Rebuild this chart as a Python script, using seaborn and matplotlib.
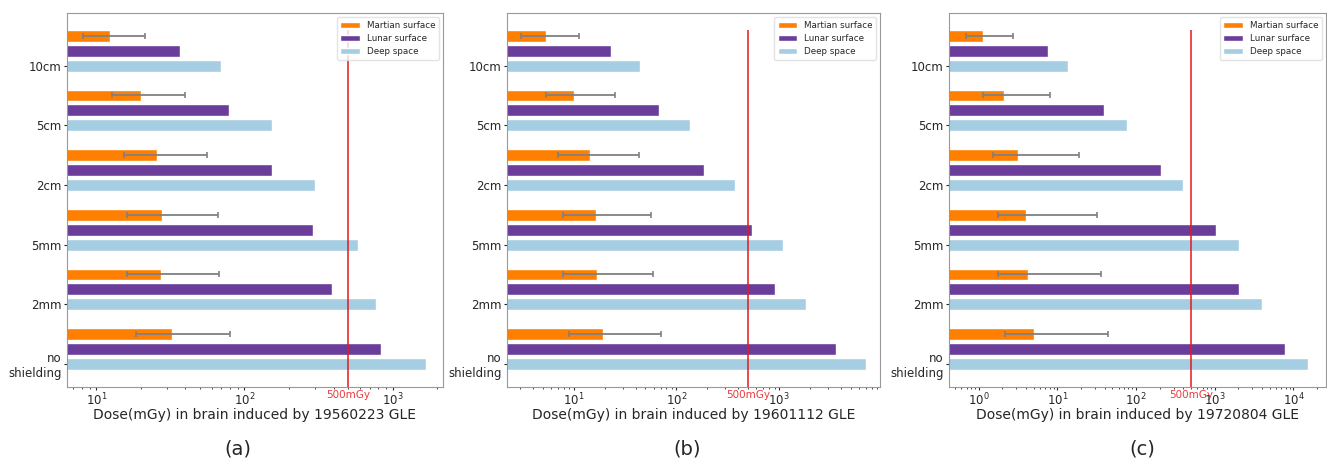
import numpy as np
import seaborn as sns
import matplotlib
matplotlib.use("Agg")
import matplotlib.pyplot as plt
import matplotlib.transforms as mtrans

# categories, bottom to top
shielding = ['no\nshielding', '2mm', '5mm', '2cm', '5cm', '10cm']
series = ['Martian surface', 'Lunar surface', 'Deep space']

# panel (a) 19560223
a_mars = [32.2, 27.5, 27.8, 25.6, 20.1, 12.4]
a_mars_lo = [18.6, 16.0, 16.2, 15.4, 12.8, 8.1]
a_mars_hi = [80.5, 67.8, 66.8, 56.3, 39.4, 21.4]
a_moon = [841, 390, 292, 153, 79, 36.8]
a_deep = [1690, 778, 583, 300, 153, 69.7]

# panel (b) 19601112
b_mars = [19.5, 16.7, 16.4, 14.3, 10.1, 5.4]
b_mars_lo = [9.1, 7.9, 7.8, 7.0, 5.4, 3.1]
b_mars_hi = [71, 59, 56.4, 43.2, 25.3, 11.2]
b_moon = [3580, 912, 541, 187, 68.4, 23.2]
b_deep = [7000, 1838, 1096, 372, 136, 44.5]

# panel (c) 19720804
c_mars = [5.0, 4.2, 4.0, 3.2, 2.12, 1.12]
c_mars_lo = [2.14, 1.78, 1.75, 1.54, 1.12, 0.68]
c_mars_hi = [43.8, 35.7, 32, 18.9, 8.1, 2.76]
c_moon = [7840, 2015, 1028, 205, 38.6, 7.6]
c_deep = [15500, 4035, 2015, 398, 75.7, 13.8]

events = ['19560223', '19601112', '19720804']
panel_tags = ['(a)', '(b)', '(c)']
limit_dose = 500

sns.set_style("ticks")
plt.rcParams['font.family'] = ['DejaVu Sans']
pal = sns.color_palette("Paired")
colors = [pal[7], pal[9], pal[0]]

panels = [
    (a_mars, a_mars_lo, a_mars_hi, a_moon, a_deep, (6.34, 2190)),
    (b_mars, b_mars_lo, b_mars_hi, b_moon, b_deep, (2.25, 9600)),
    (c_mars, c_mars_lo, c_mars_hi, c_moon, c_deep, (0.42, 26000)),
]
rects = [
    [0.0505, 0.157, 0.2833, 0.815],
    [0.3821, 0.157, 0.2812, 0.815],
    [0.7152, 0.157, 0.2841, 0.815],
]
tag_x = [0.179, 0.518, 0.861]

fig = plt.figure(figsize=(13.27, 4.59), dpi=100)
pos = np.arange(len(shielding))
h = 0.2
for k, (mars, lo, hi, moon, deep, xl) in enumerate(panels):
    ax = fig.add_axes(rects[k])
    ax.set_xscale('log')
    mars = np.array(mars)
    xerr = [mars - np.array(lo), np.array(hi) - mars]
    ax.barh(pos + 0.5, mars, height=h, color=colors[0], label=series[0])
    ax.barh(pos + 0.25, moon, height=h, color=colors[1], label=series[1])
    ax.barh(pos, deep, height=h, color=colors[2], label=series[2])
    ax.errorbar(mars, pos + 0.5, xerr=xerr, fmt='none', ecolor='grey',
                elinewidth=1.3, capsize=2.5, capthick=1.2)
    ax.set_xlim(*xl)
    ax.set_ylim(-0.385, 5.885)
    ax.vlines(limit_dose, -0.385, 5.6, color='#e31a1c', lw=1.3, alpha=0.85)
    tr = mtrans.blended_transform_factory(ax.transData, ax.transAxes)
    ax.text(limit_dose, -0.008, '500mGy', color='#e31a1c', fontsize=7.5,
            ha='center', va='top', transform=tr, alpha=0.85)
    ax.set_yticks(pos)
    ax.set_yticklabels(shielding, fontsize=8.5)
    ax.tick_params(axis='x', labelsize=8.5, length=2.5, pad=1)
    ax.tick_params(axis='x', which='minor', length=1.5)
    ax.tick_params(axis='y', length=2.5, pad=1.5)
    ax.set_xlabel('Dose(mGy) in brain induced by %s GLE' % events[k],
                  fontsize=10, labelpad=0)
    for sp in ax.spines.values():
        sp.set_color('#999999')
    leg = ax.legend(loc='upper right', fontsize=6.3, frameon=True,
                    handlelength=2.2)
    leg.get_frame().set_edgecolor('#dddddd')
    fig.text(tag_x[k], 0.022, panel_tags[k], fontsize=14, ha='center',
             va='center')

fig.savefig('out.png', dpi=100)
